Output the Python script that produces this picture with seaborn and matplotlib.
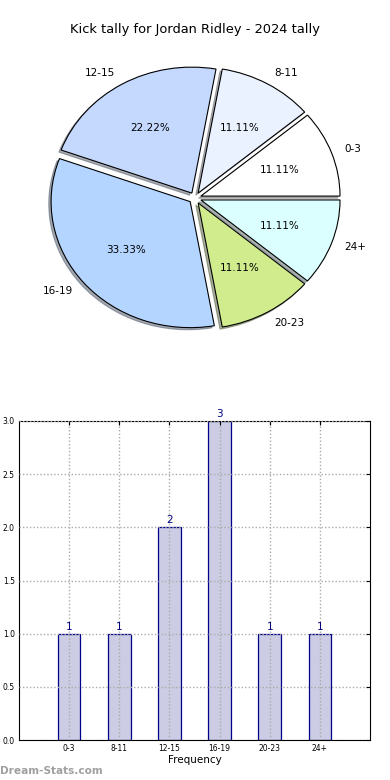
import matplotlib
matplotlib.use("Agg")
import matplotlib.pyplot as plt
import seaborn as sns

# data
categories = ["0-3", "8-11", "12-15", "16-19", "20-23", "24+"]
counts = [1, 1, 2, 3, 1, 1]
slice_colors = ["#ffffff", "#ebf2ff", "#c5d9ff", "#b4d5ff", "#d0ec8c", "#dbffff"]
y_ticks = [0.0, 0.5, 1.0, 1.5, 2.0, 2.5, 3.0]

sns.set_style("white")
plt.rcParams["font.family"] = ["DejaVu Sans"]
plt.rcParams["text.color"] = "black"
plt.rcParams["axes.labelcolor"] = "black"
plt.rcParams["xtick.color"] = "black"
plt.rcParams["ytick.color"] = "black"

fig = plt.figure(figsize=(3.9, 7.8), dpi=100)

# pie on top (old matplotlib: not forced to equal aspect, a bit squashed)
ax_pie = fig.add_axes([35 / 390, 0.541, 320 / 390, 320 / 780])
ax_pie.pie(counts, labels=categories, colors=slice_colors, autopct="%.2f%%",
           startangle=0, counterclock=True, explode=[0.045] * len(counts),
           shadow={"ox": -0.012, "oy": -0.012, "shade": 0.6},
           wedgeprops={"edgecolor": "black", "linewidth": 0.8},
           textprops={"fontsize": 7.5})
ax_pie.set_aspect("auto")
ax_pie.set_xlim(-1.15, 1.15)
ax_pie.set_ylim(-1.27, 1.27)
fig.text(0.5, 1 - 30 / 780, "Kick tally for Jordan Ridley - 2024 tally",
         ha="center", va="center", fontsize=9.4)

# bar chart below
ax = fig.add_axes([19 / 390, 1 - 740 / 780, 351 / 390, 319 / 780])
sns.barplot(x=categories, y=counts, color="#cccce4", edgecolor="#00008b",
            linewidth=0.9, width=0.45, saturation=1, ax=ax, zorder=1)
for i, v in enumerate(counts):
    ax.text(i, v + 0.02, str(v), ha="center", va="bottom", color="#000080",
            fontsize=7.5)
ax.set_xlim(-1, 6)
ax.set_ylim(0, 3)
ax.set_yticks(y_ticks)
ax.set_yticklabels([f"{t:.1f}" for t in y_ticks])
ax.grid(True, linestyle=(0, (1, 1.5)), color="#aaaaaa", linewidth=1)
ax.set_axisbelow(False)
ax.tick_params(axis="both", labelsize=5.5, direction="in", length=3,
               top=True, right=True, pad=3)
ax.set_xlabel("Frequency", fontsize=7.5, labelpad=1)
ax.set_ylabel("")
for s in ax.spines.values():
    s.set_color("black")
    s.set_linewidth(0.8)

fig.text(0.0, 1 - 771 / 780, "Dream-Stats.com", ha="left", va="center",
         fontsize=7.6, color="#a0a0a0", fontweight="bold")

fig.savefig("out.png", dpi=100)
